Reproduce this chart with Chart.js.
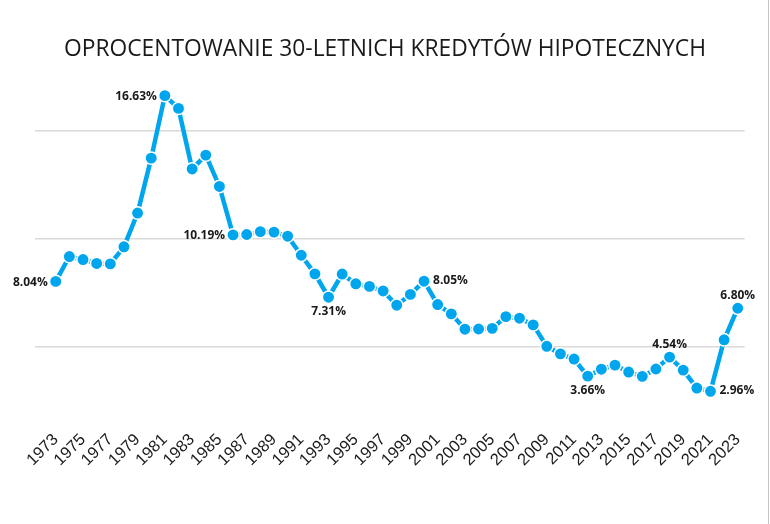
<!DOCTYPE html>
<html>
<head>
<meta charset="utf-8">
<script src="https://cdn.jsdelivr.net/npm/chart.js@4.4.1/dist/chart.umd.min.js"></script>
<style>
    html, body { margin: 0; padding: 0; background: #fff; }
    #wrap { width: 770px; height: 524px; position: relative; }
</style>
</head>
<body>
<div id="wrap"><canvas id="rateChart"></canvas></div>
<script>
const years = [1973, 1974, 1975, 1976, 1977, 1978, 1979, 1980, 1981, 1982,
    1983, 1984, 1985, 1986, 1987, 1988, 1989, 1990, 1991, 1992,
    1993, 1994, 1995, 1996, 1997, 1998, 1999, 2000, 2001, 2002,
    2003, 2004, 2005, 2006, 2007, 2008, 2009, 2010, 2011, 2012,
    2013, 2014, 2015, 2016, 2017, 2018, 2019, 2020, 2021, 2022, 2023];

const rates = [8.04, 9.19, 9.05, 8.87, 8.85, 9.64, 11.20, 13.74, 16.63, 16.04,
    13.24, 13.88, 12.43, 10.19, 10.21, 10.34, 10.32, 10.13, 9.25, 8.39,
    7.31, 8.38, 7.93, 7.81, 7.60, 6.94, 7.44, 8.05, 6.97, 6.54,
    5.83, 5.84, 5.87, 6.41, 6.34, 6.03, 5.04, 4.69, 4.45, 3.66,
    3.98, 4.17, 3.85, 3.65, 3.99, 4.54, 3.94, 3.11, 2.96, 5.34, 6.80];

const tickYears = [1973, 1975, 1977, 1979, 1981, 1983, 1985, 1987, 1989, 1991,
    1993, 1995, 1997, 1999, 2001, 2003, 2005, 2007, 2009, 2011,
    2013, 2015, 2017, 2019, 2021, 2023];

const gridValues = [5, 10, 15];

const labelledYears = [1973, 1981, 1986, 1993, 2000, 2012, 2018, 2021, 2023];

const chartTitle = 'OPROCENTOWANIE 30-LETNICH KREDYTÓW HIPOTECZNYCH';

const BLUE = '#00A6ED';

// where each value label sits relative to its point
const labelPlacement = {
    1973: 'left', 1981: 'left', 1986: 'left',
    1993: 'below', 2000: 'right', 2012: 'below',
    2018: 'above', 2021: 'right', 2023: 'above'
};

const valueLabels = {
    id: 'valueLabels',
    afterDatasetsDraw(chart) {
        const ctx = chart.ctx;
        const meta = chart.getDatasetMeta(0);
        ctx.save();
        ctx.font = 'bold 12px "Open Sans", sans-serif';
        ctx.fillStyle = '#1a1a1a';
        ctx.textBaseline = 'middle';
        labelledYears.forEach(year => {
            const i = years.indexOf(year);
            const pt = meta.data[i];
            const text = rates[i].toFixed(2) + '%';
            const pos = labelPlacement[year];
            if (pos === 'left') {
                ctx.textAlign = 'right';
                ctx.fillText(text, pt.x - 8, pt.y + 1);
            } else if (pos === 'right') {
                ctx.textAlign = 'left';
                ctx.fillText(text, pt.x + 9, pt.y - 1);
            } else if (pos === 'below') {
                ctx.textAlign = 'center';
                ctx.fillText(text, pt.x, pt.y + 14);
            } else {
                ctx.textAlign = 'center';
                ctx.fillText(text, pt.x, pt.y - 13);
            }
        });
        ctx.restore();
    }
};

// title centred on the whole picture + thin frame line on the right
const frameAndTitle = {
    id: 'frameAndTitle',
    afterDraw(chart) {
        const ctx = chart.ctx;
        ctx.save();
        ctx.font = '22.8px "Open Sans", sans-serif';
        ctx.fillStyle = '#1a1a1a';
        ctx.textAlign = 'center';
        ctx.textBaseline = 'alphabetic';
        ctx.fillText(chartTitle, 385, 56);

        ctx.strokeStyle = '#c4c4c4';
        ctx.lineWidth = 1;
        ctx.beginPath();
        ctx.moveTo(768.5, 0);
        ctx.lineTo(768.5, chart.height);
        ctx.stroke();
        ctx.restore();
    }
};

document.addEventListener('DOMContentLoaded', function () {
    const ctx = document.getElementById('rateChart').getContext('2d');
    new Chart(ctx, {
        type: 'line',
        data: {
            datasets: [{
                data: years.map((y, i) => ({ x: y, y: rates[i] })),
                borderColor: BLUE,
                borderWidth: 4.5,
                pointRadius: 6.2,
                pointBackgroundColor: BLUE,
                pointBorderColor: '#fff',
                pointBorderWidth: 1.5,
                tension: 0
            }]
        },
        options: {
            responsive: true,
            maintainAspectRatio: false,
            animation: false,
            layout: {
                padding: { top: 66, left: 35, right: 25, bottom: 36 }
            },
            plugins: {
                legend: { display: false },
                tooltip: { enabled: false },
                title: { display: false }
            },
            scales: {
                x: {
                    type: 'linear',
                    min: 1971.48,
                    max: 2023.5,
                    afterBuildTicks: axis => {
                        axis.ticks = tickYears.map(v => ({ value: v }));
                    },
                    grid: { display: false, drawTicks: false },
                    border: { display: false },
                    ticks: {
                        autoSkip: false,
                        minRotation: 45,
                        maxRotation: 45,
                        padding: 18,
                        color: '#1a1a1a',
                        font: { family: '"Liberation Sans", Arial, sans-serif', size: 16.5 },
                        callback: value => String(value)
                    }
                },
                y: {
                    min: 2,
                    max: 18,
                    afterBuildTicks: axis => {
                        axis.ticks = gridValues.map(v => ({ value: v }));
                    },
                    grid: { color: '#d9d9d9', lineWidth: 1.5, drawTicks: false },
                    border: { display: false },
                    ticks: { display: false }
                }
            }
        },
        plugins: [valueLabels, frameAndTitle]
    });
});
</script>
</body>
</html>
